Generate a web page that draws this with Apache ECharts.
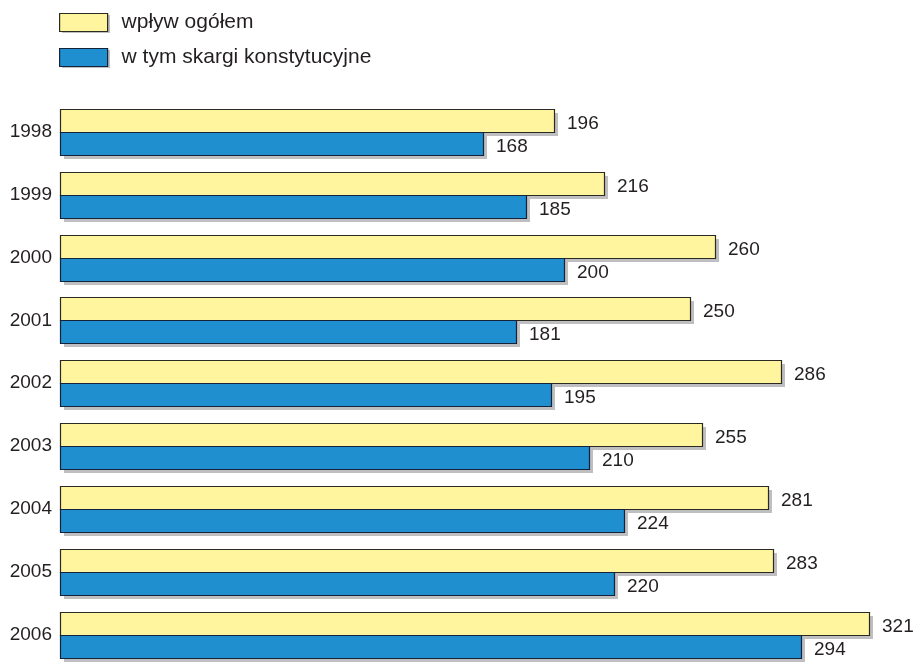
<!DOCTYPE html>
<html><head><meta charset="utf-8">
<script src="https://cdn.jsdelivr.net/npm/echarts@6/dist/echarts.min.js"></script>
<style>html,body{margin:0;padding:0;background:#fff}#c{width:913px;height:666px}</style>
</head><body><div id="c"></div>
<script>
const categories = ['1998','1999','2000','2001','2002','2003','2004','2005','2006'];
const totalIntake = [196,216,260,250,286,255,281,283,321];
const constitutionalComplaints = [168,185,200,181,195,210,224,220,294];
const seriesNames = ['wpływ ogółem','w tym skargi konstytucyjne'];

const txt = '#231f20';
const font = '"Liberation Sans", Arial, sans-serif';
const shadowColor = '#bfbfc1';
const colors = ['#fff59e', '#1f8fd0'];
const borders = ['#2a2a22', '#14233a'];
const barH = 23, shOff = 4;

function makeRender(which) {
  return function (params, api) {
    const idx = api.value(0), val = api.value(1);
    const p0 = api.coord([0, idx]);
    const p1 = api.coord([val, idx]);
    const cy = p0[1];
    const x0 = Math.round(p0[0]), x1 = Math.round(p1[0]);
    const y0 = which === 0 ? Math.round(cy - barH) : Math.round(cy);
    const w = x1 - x0;
    return {
      type: 'group',
      children: [
        {type:'rect', shape:{x:x0+shOff, y:y0+shOff, width:w, height:barH},
         style:{fill:shadowColor}, z2:0},
        {type:'rect', shape:{x:x0+0.5, y:y0+0.5, width:w, height:barH},
         style:{fill:colors[which], stroke:borders[which], lineWidth:1.2}, z2:1},
        {type:'text', x:x1+shOff+9, y:y0+barH/2+3,
         style:{text:String(val), fill:txt, font:'19px ' + font, verticalAlign:'middle'}, z2:2}
      ]
    };
  };
}

const chart = echarts.init(document.getElementById('c'), null, {renderer:'canvas'});
chart.setOption({
  animation:false,
  graphic:[
    {type:'rect', left:62, top:15, z:0, shape:{width:48, height:18}, style:{fill:shadowColor}},
    {type:'rect', left:62, top:50, z:0, shape:{width:48, height:18}, style:{fill:shadowColor}}
  ],
  legend:{
    orient:'vertical', left:59, top:12, padding:0, itemWidth:48, itemHeight:18, itemGap:14,
    icon:'rect',
    itemStyle:{borderWidth:1.2},
    textStyle:{color:txt, fontSize:21, fontFamily:font, padding:[0,0,0,9]},
    data: seriesNames
  },
  grid:{left:60, top:100.5, width:849, height:574},
  xAxis:{type:'value', min:0, max:337, show:false},
  yAxis:{type:'category', data:categories, inverse:true,
    axisLine:{show:false}, axisTick:{show:false},
    axisLabel:{color:txt, fontSize:19, fontFamily:font, margin:8}},
  series:[
    {name:seriesNames[0], type:'custom', renderItem:makeRender(0),
     encode:{x:1, y:0},
     itemStyle:{color:colors[0], borderColor:borders[0], borderWidth:1.2},
     data: categories.map((c,i)=>[i, totalIntake[i]])},
    {name:seriesNames[1], type:'custom', renderItem:makeRender(1),
     encode:{x:1, y:0},
     itemStyle:{color:colors[1], borderColor:borders[1], borderWidth:1.2},
     data: categories.map((c,i)=>[i, constitutionalComplaints[i]])}
  ]
});
</script></body></html>
